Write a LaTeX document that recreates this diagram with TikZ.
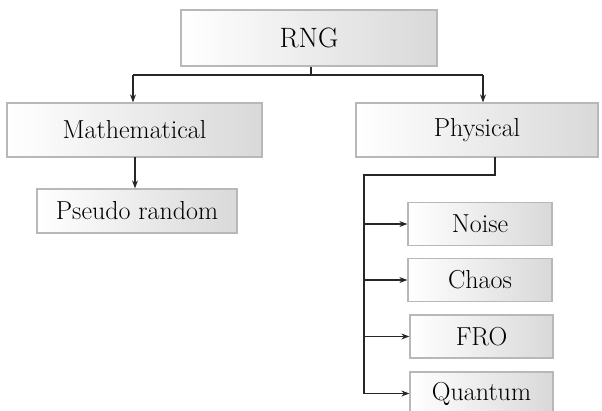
\documentclass[tikz,border=0pt]{standalone}
\usepackage{fontspec}
\setmainfont{Latin Modern Roman}
\usetikzlibrary{arrows.meta,calc}
\begin{document}
\begin{tikzpicture}[x=1pt,y=-1pt,
  box/.style={draw=black!28,line width=1.3pt,left color=white,right color=black!15,
    inner sep=0pt,anchor=center},
  conn/.style={line width=1.1pt,draw=black!85},
  arr/.style={conn,-{Stealth[length=8pt,width=6pt]}}]
\useasboundingbox (0,0) rectangle (602,410);
\node[box,minimum width=256pt,minimum height=56pt,font=\fontsize{28}{32}\selectfont] (rng) at (309,38) {RNG};
\node[box,minimum width=255pt,minimum height=54pt,font=\fontsize{26}{30}\selectfont] (math) at (134.5,130) {Mathematical};
\node[box,minimum width=242pt,minimum height=54pt,font=\fontsize{26}{30}\selectfont] (phys) at (477,130) {Physical};
\node[box,minimum width=200pt,minimum height=44pt,font=\fontsize{26}{30}\selectfont] (pseudo) at (137,211) {Pseudo random};
\node[box,minimum width=144pt,minimum height=43pt,font=\fontsize{26}{30}\selectfont] (noise) at (480,224) {Noise};
\node[box,minimum width=144pt,minimum height=43pt,font=\fontsize{26}{30}\selectfont] (chaos) at (480,280) {Chaos};
\node[box,minimum width=143pt,minimum height=43pt,font=\fontsize{26}{30}\selectfont] (fro) at (481.5,336.5) {FRO};
\node[box,minimum width=143pt,minimum height=43pt,font=\fontsize{26}{30}\selectfont] (quantum) at (481.5,393.5) {Quantum};
% top connectors
\coordinate (jt) at (311,75);
\coordinate (jl) at (133,75);
\coordinate (jr) at (483,75);
\draw[conn] (rng.south -| jt) -- (jt);
\draw[conn] (jl) -- (jr);
\draw[arr] (jl) -- (jl |- math.north);
\draw[arr] (jr) -- (jr |- phys.north);
\coordinate (ml) at (135,157);
\draw[arr] (ml) -- (ml |- pseudo.north);
% physical tree
\coordinate (ps) at (495,157);
\coordinate (pk) at (495,175);
\coordinate (bk) at (364,175);
\coordinate (bb) at (364,393.5);
\draw[conn] (ps) -- (pk) -- (bk) -- (bb);
\draw[arr] (bk |- noise.west) -- (noise.west);
\draw[arr] (bk |- chaos.west) -- (chaos.west);
\draw[arr] (bk |- fro.west) -- (fro.west);
\draw[arr] (bb) -- (quantum.west);
\end{tikzpicture}
\end{document}
